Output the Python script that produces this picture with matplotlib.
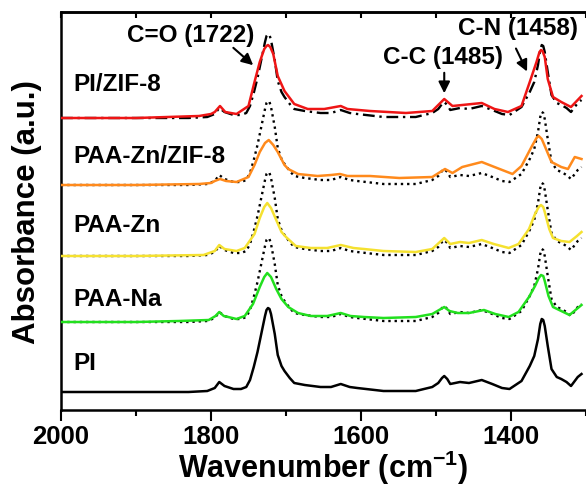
import numpy as np
import matplotlib
matplotlib.use('Agg')
import matplotlib.pyplot as plt

plt.rcParams['font.family'] = ['Liberation Sans', 'DejaVu Sans']
plt.rcParams['font.weight'] = 'bold'
plt.rcParams['mathtext.fontset'] = 'custom'
plt.rcParams['mathtext.rm'] = 'Liberation Sans:bold'
plt.rcParams['mathtext.bf'] = 'Liberation Sans:bold'

# FTIR spectra (relative absorbance, a.u.)
wn_pi = [2000, 1900, 1830, 1805, 1795, 1789, 1782, 1770, 1760, 1753, 1748, 1743, 1738, 1733,
         1728, 1726, 1724, 1722, 1720, 1715, 1711, 1706, 1702, 1695, 1689, 1675, 1654, 1640,
         1627, 1615, 1605, 1570, 1527, 1505, 1497, 1492, 1489, 1485, 1481, 1468, 1456, 1439,
         1425, 1412, 1402, 1386, 1375, 1369, 1364, 1361, 1359, 1357, 1355, 1351, 1346, 1339,
         1333, 1326, 1320, 1311, 1306]
abs_pi = [0.00, 0.00, 0.00, 0.01, 0.04, 0.10, 0.06, 0.03, 0.03, 0.05, 0.12, 0.25, 0.40, 0.58,
          0.76, 0.82, 0.84, 0.83, 0.78, 0.58, 0.37, 0.26, 0.21, 0.14, 0.09, 0.07, 0.05, 0.05,
          0.08, 0.05, 0.04, 0.01, 0.01, 0.05, 0.09, 0.14, 0.16, 0.13, 0.08, 0.10, 0.09, 0.12,
          0.08, 0.04, 0.03, 0.11, 0.26, 0.36, 0.53, 0.68, 0.73, 0.72, 0.66, 0.46, 0.23, 0.15,
          0.13, 0.10, 0.06, 0.15, 0.18]

wn_na = [2000, 1900, 1843, 1803, 1794, 1789, 1783, 1777, 1766, 1755, 1744, 1735, 1729, 1725,
         1720, 1713, 1706, 1697, 1684, 1667, 1645, 1627, 1614, 1596, 1570, 1527, 1505, 1489,
         1482, 1471, 1456, 1436, 1421, 1403, 1390, 1376, 1368, 1363, 1360, 1357, 1355, 1350,
         1344, 1333, 1322, 1306]
abs_na = [0.00, 0.00, 0.01, 0.02, 0.06, 0.10, 0.06, 0.05, 0.03, 0.06, 0.18, 0.35, 0.45, 0.49,
          0.45, 0.33, 0.23, 0.15, 0.09, 0.06, 0.06, 0.09, 0.06, 0.05, 0.04, 0.05, 0.08, 0.15,
          0.11, 0.09, 0.09, 0.12, 0.08, 0.05, 0.10, 0.25, 0.36, 0.44, 0.47, 0.46, 0.41, 0.26,
          0.15, 0.11, 0.07, 0.17]

wn_zn = [2000, 1900, 1810, 1795, 1789, 1782, 1766, 1755, 1742, 1735, 1729, 1725, 1720, 1713,
         1706, 1700, 1687, 1667, 1645, 1627, 1610, 1596, 1570, 1527, 1505, 1489, 1481, 1468,
         1456, 1439, 1423, 1403, 1390, 1376, 1368, 1363, 1360, 1357, 1355, 1349, 1344, 1333,
         1322, 1312, 1306]
abs_zn = [0.00, 0.00, 0.01, 0.05, 0.11, 0.07, 0.05, 0.08, 0.22, 0.38, 0.49, 0.53, 0.48, 0.36,
          0.24, 0.19, 0.10, 0.08, 0.08, 0.11, 0.08, 0.07, 0.05, 0.04, 0.07, 0.18, 0.12, 0.14,
          0.13, 0.16, 0.12, 0.08, 0.12, 0.27, 0.42, 0.49, 0.51, 0.49, 0.44, 0.27, 0.18, 0.15,
          0.14, 0.20, 0.24]

wn_znzif = [2000, 1900, 1816, 1800, 1795, 1788, 1780, 1766, 1750, 1742, 1735, 1728, 1723, 1717,
            1711, 1702, 1697, 1684, 1658, 1640, 1628, 1618, 1588, 1549, 1505, 1488, 1478, 1465,
            1439, 1422, 1398, 1386, 1372, 1366, 1363, 1359, 1355, 1346, 1333, 1324, 1315, 1306]
abs_znzif = [0.00, 0.00, 0.01, 0.02, 0.04, 0.06, 0.04, 0.03, 0.08, 0.20, 0.33, 0.42, 0.45, 0.40,
             0.33, 0.20, 0.16, 0.11, 0.09, 0.10, 0.11, 0.09, 0.09, 0.07, 0.08, 0.16, 0.12, 0.18,
             0.23, 0.18, 0.11, 0.19, 0.39, 0.47, 0.49, 0.46, 0.39, 0.23, 0.18, 0.16, 0.28, 0.26]

wn_pizif = [2000, 1900, 1816, 1800, 1795, 1788, 1781, 1766, 1750, 1742, 1735, 1729, 1726, 1724,
            1721, 1717, 1711, 1702, 1689, 1671, 1649, 1627, 1618, 1588, 1540, 1505, 1489, 1478,
            1465, 1439, 1422, 1404, 1386, 1375, 1366, 1362, 1360, 1358, 1355, 1351, 1344, 1333,
            1320, 1306]
abs_pizif = [0.00, 0.00, 0.02, 0.04, 0.06, 0.12, 0.06, 0.04, 0.12, 0.36, 0.56, 0.69, 0.72, 0.73,
             0.71, 0.64, 0.42, 0.27, 0.14, 0.09, 0.09, 0.12, 0.09, 0.07, 0.05, 0.07, 0.19, 0.12,
             0.13, 0.15, 0.09, 0.06, 0.12, 0.36, 0.56, 0.66, 0.68, 0.67, 0.61, 0.39, 0.21, 0.16,
             0.11, 0.22]

names = ['PI', 'PAA-Na', 'PAA-Zn', 'PAA-Zn/ZIF-8', 'PI/ZIF-8']
offsets = [0.18, 0.88, 1.54, 2.25, 2.92]
colors = ['black', '#22e01e', '#f5e130', '#ff8a1c', '#ee1515']
spectra = [(wn_pi, abs_pi), (wn_na, abs_na), (wn_zn, abs_zn),
           (wn_znzif, abs_znzif), (wn_pizif, abs_pizif)]
label_y = [0.48, 1.12, 1.85, 2.55, 3.27]

fig = plt.figure(figsize=(5.86, 4.89), dpi=100)
ax = fig.add_axes([61/586, 78/489, 525/586, 398/489])

for i, (wn, a) in enumerate(spectra):
    off = offsets[i]
    if i > 0:
        # PI reference drawn over each sample
        ls = (0, (5, 2, 1, 2)) if i == 4 else ':'
        ax.plot(wn_pi, np.array(abs_pi) + off, color='black', ls=ls, lw=1.7, zorder=2)
    ax.plot(wn, np.array(a) + off, color=colors[i], lw=1.8, zorder=3,
            solid_joinstyle='round')
    ax.text(1984, label_y[i], names[i], fontsize=17.5, fontweight='bold', va='center', ha='left')

# peak annotations
ax.annotate('', xy=(1741, 3.43), xytext=(1773, 3.64),
            arrowprops=dict(arrowstyle='-|>', color='black', lw=1.5, mutation_scale=17))
ax.text(1827, 3.76, 'C=O (1722)', fontsize=17.5, fontweight='bold', ha='center', va='center')
ax.annotate('', xy=(1489, 3.14), xytext=(1489, 3.40),
            arrowprops=dict(arrowstyle='-|>', color='black', lw=1.5, mutation_scale=17))
ax.text(1491, 3.54, 'C-C (1485)', fontsize=17.5, fontweight='bold', ha='center', va='center')
ax.annotate('', xy=(1377, 3.36), xytext=(1395, 3.64),
            arrowprops=dict(arrowstyle='-|>', color='black', lw=1.5, mutation_scale=17))
ax.text(1390, 3.83, 'C-N (1458)', fontsize=17.5, fontweight='bold', ha='center', va='center')

ax.set_xlim(2000, 1306)
ax.set_ylim(0, 3.98)
ax.set_xticks([2000, 1800, 1600, 1400])
ax.set_xticks([1900, 1700, 1500, 1300], minor=True)
ax.set_yticks([])
ax.tick_params(axis='x', which='major', direction='out', length=8, width=1.5,
               labelsize=18.5, pad=2)
ax.tick_params(axis='x', which='minor', direction='out', length=4, width=1.5)
for lab in ax.get_xticklabels():
    lab.set_fontweight('bold')

top = ax.secondary_xaxis('top')
top.set_xticks([2000, 1900, 1800, 1700, 1600, 1500, 1400, 1300])
top.tick_params(direction='in', length=4, width=1.5, labeltop=False)
top.spines['top'].set_linewidth(1.8)

for s in ['left', 'bottom', 'top']:
    ax.spines[s].set_linewidth(1.8)
ax.spines['right'].set_visible(False)

ax.set_xlabel('Wavenumber (cm$^{-1}$)', fontsize=22, fontweight='bold', labelpad=0)
ax.set_ylabel('Absorbance (a.u.)', fontsize=22.5, fontweight='bold', labelpad=14)

fig.savefig('out.png', dpi=100)
